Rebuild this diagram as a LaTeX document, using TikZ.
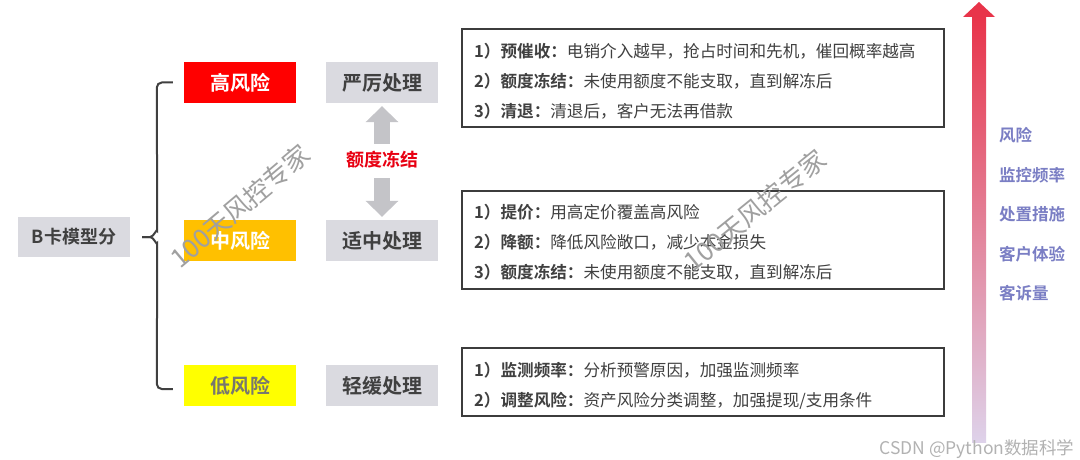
\documentclass[tikz,border=0pt]{standalone}
\usepackage{fontspec}
\setmainfont{Noto Sans CJK SC}[BoldFont={Noto Sans CJK SC Bold}]
\usetikzlibrary{arrows.meta,calc}
\definecolor{hired}{RGB}{255,0,0}
\definecolor{midorange}{RGB}{255,192,0}
\definecolor{lowyellow}{RGB}{255,255,0}
\definecolor{procgray}{RGB}{218,218,224}
\definecolor{txtdark}{RGB}{64,64,64}
\definecolor{lowtxt}{RGB}{120,120,110}
\definecolor{boxline}{RGB}{60,60,60}
\definecolor{arrgray}{RGB}{196,196,200}
\definecolor{freezered}{RGB}{232,0,18}
\definecolor{arrtop}{RGB}{232,52,74}
\definecolor{arrmid}{RGB}{178,180,222}
\definecolor{arrbot}{RGB}{222,210,234}
\definecolor{labblue}{RGB}{122,126,196}
\definecolor{wmgray}{RGB}{160,160,160}
\definecolor{csdngray}{RGB}{178,178,178}
\begin{document}
\begin{tikzpicture}[x=1pt,y=-1pt,
  lvl/.style={minimum width=112pt, minimum height=41pt, inner sep=0pt,
    font=\fontsize{20}{24}\selectfont\bfseries},
  proc/.style={lvl, fill=procgray, text=txtdark},
  frame/.style={draw=boxline, line width=1.3pt, minimum width=482pt, inner sep=0pt},
  listtxt/.style={anchor=west, align=left, inner xsep=12pt, inner ysep=0pt, text width=458pt,
    font=\fontsize{16.6}{30}\selectfont, text=txtdark},
  blk/.style={draw=arrgray, line width=16pt, -{Triangle[length=16pt,width=32pt]}},
  brace/.style={draw=txtdark, line width=2pt},
  rlab/.style={anchor=west, inner sep=0pt, text=labblue, font=\fontsize{16.5}{20}\selectfont\bfseries},
  wm/.style={text=wmgray, font=\fontsize{26}{30}\selectfont}
]
\useasboundingbox (0,0) rectangle (1080,460);
\fill[white] (0,0) rectangle (1080,460);

% left node
\node[proc, minimum width=112pt, minimum height=40pt, font=\fontsize{18}{22}\selectfont\bfseries] (bk) at (74,237) {B卡模型分};

% levels
\node[lvl, fill=hired, text=white] (gao) at (240,82.5) {高风险};
\node[lvl, fill=midorange, text=white] (zhong) at (240,240.5) {中风险};
\node[lvl, fill=lowyellow, text=lowtxt] (di) at (240,385.5) {低风险};

% processing
\node[proc] (yan) at (382,82.5) {严厉处理};
\node[proc] (shi) at (382,240.5) {适中处理};
\node[proc] (qing) at (382,385.5) {轻缓处理};

% freeze label and arrows
\node[inner sep=0pt, minimum height=32pt, text=freezered, font=\fontsize{18}{22}\selectfont\bfseries] (fz) at (382,160) {额度冻结};
\draw[blk, shorten >=3pt] (fz.north) -- (yan.south);
\draw[blk, shorten <=2pt, shorten >=3pt] (fz.south) -- (shi.north);

% brace
\coordinate (tip) at ($(bk.east)+(12,0)$);
\draw[brace, rounded corners=5pt] ($(gao.west)+(-11,0)$) -- ($(gao.west)+(-27,0)$) -- ($(tip)+(15,-10)$);
\draw[brace] ($(tip)+(15,-10)$) -- ($(tip)+(15,-6)$) to[out=90,in=0] ($(tip)+(8,0)$) -- (tip);
\draw[brace] (tip) -- ($(tip)+(8,0)$) to[out=0,in=-90] ($(tip)+(15,6)$) -- ($(tip)+(15,10)$);
\draw[brace, rounded corners=5pt] ($(tip)+(15,10)$) -- ($(di.west)+(-27,3.5)$) -- ($(di.west)+(-11,3.5)$);

% list boxes
\node[frame, minimum height=98pt] (f1) at (703,78) {};
\node[frame, minimum height=98pt] (f2) at (703,240) {};
\node[frame, minimum height=68pt] (f3) at (703,382) {};
\node[listtxt] (b1) at (462,81) {%
\textbf{1）预催收：}电销介入越早，抢占时间和先机，催回概率越高\\
\textbf{2）额度冻结：}未使用额度不能支取，直到解冻后\\
\textbf{3）清退：}清退后，客户无法再借款};
\node[listtxt] (b2) at (462,242.5) {%
\textbf{1）提价：}用高定价覆盖高风险\\
\textbf{2）降额：}降低风险敞口，减少本金损失\\
\textbf{3）额度冻结：}未使用额度不能支取，直到解冻后};
\node[listtxt] (b3) at (462,386) {%
\textbf{1）监测频率：}分析预警原因，加强监测频率\\
\textbf{2）调整风险：}资产风险分类调整，加强提现/支用条件};

% gradient arrow
\shade[top color=arrtop, middle color=arrmid, bottom color=arrbot] (972,16) rectangle (986,442);
\fill[arrtop] (963,17) -- (995,17) -- (979,2) -- cycle;

\node[rlab] (r1) at (999,135) {风险};
\node[rlab] (r2) at (999,175) {监控频率};
\node[rlab] (r3) at (999,214) {处置措施};
\node[rlab] (r4) at (999,254) {客户体验};
\node[rlab] (r5) at (999,293) {客诉量};

% watermarks
\node[wm, rotate=40] (wm1) at (240,206) {100天风控专家};
\node[wm, rotate=39] (wm2) at (755,210) {100天风控专家};
\node[anchor=east, text=csdngray, font=\fontsize{17.5}{20}\selectfont] (csdn) at (1078,449) {CSDN @Python数据科学};
\end{tikzpicture}
\end{document}
